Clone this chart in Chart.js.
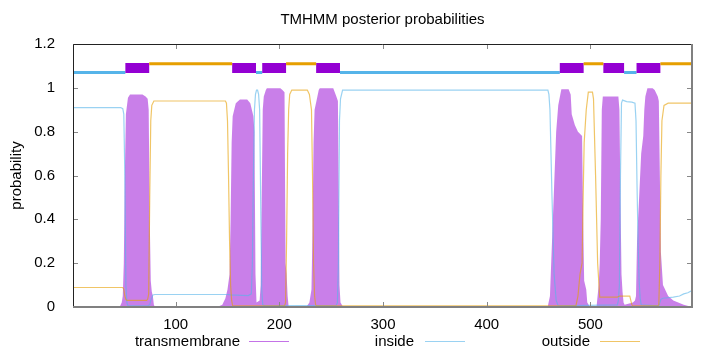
<!DOCTYPE html>
<html>
<head>
<meta charset="utf-8">
<script src="https://cdn.jsdelivr.net/npm/chart.js@4"></script>
<style>
  html, body { margin: 0; padding: 0; background: #fff; }
  #wrap { position: relative; width: 720px; height: 352px; font-family: "Liberation Sans", Arial, sans-serif; color: #000; }
  #chart { position: absolute; left: 0; top: 0; }
  #title { position: absolute; left: 73px; width: 619px; top: 10px; text-align: center; font-size: 15px; line-height: 17px; }
  .lg { position: absolute; top: 332px; font-size: 15px; line-height: 17px; }
  .lg .t { position: absolute; right: 0; white-space: nowrap; text-align: right; }
  .lg .s { position: absolute; top: 9px; height: 0; width: 40px; border-top: 1.5px solid; }
</style>
</head>
<body>
<div id="wrap">
  <canvas id="chart" width="720" height="352"></canvas>
  <div id="title">TMHMM posterior probabilities</div>
  <div id="legend"></div>
</div>
<script>
// ---- data ----
const chartTitle = "TMHMM posterior probabilities";
const yAxisTitle = "probability";
const seriesNames = ["transmembrane", "inside", "outside"];
const xTicks = [100, 200, 300, 400, 500];
const yTicks = [0, 0.2, 0.4, 0.6, 0.8, 1.0, 1.2];
const seqLength = 598;

// transmembrane posterior probability (residue, value)
const tmX = [1,46,48,49,50,51,52,54,56,68,71,73,74,75,76,77,78,79,80,
  140,145,148,150,152,153,154,155,158,162,169,172,175,176,177,178,181,182,183,184,185,187,188,201,203,205,206,207,208,209,
  226,229,231,232,233,234,236,238,239,252,255,256.5,257.5,258,259,261,
  459,461,463,465,467,469,471,472,479,481,482,485,488,492,493,494,496,497,499,
  506,508,509,510,511,512,527,528,529,530,531,532,533,
  541,543,544,545,547,549,551,552,553,555,560,562,565,566,567,568,570,575,580,590,598];
const tmY = [0,0,0.02,0.05,0.2,0.6,0.88,0.955,0.97,0.97,0.96,0.95,0.9,0.4,0.12,0.07,0.05,0.01,0,
  0,0.01,0.04,0.08,0.15,0.4,0.75,0.87,0.93,0.947,0.947,0.93,0.87,0.8,0.15,0.02,0.03,0.1,0.5,0.9,0.96,0.99,0.998,0.998,0.99,0.98,0.2,0.15,0.05,0,
  0,0.02,0.08,0.35,0.75,0.9,0.945,0.99,0.998,0.998,0.96,0.94,0.4,0.1,0.02,0.005,
  0.005,0.05,0.3,0.55,0.8,0.92,0.97,0.994,0.994,0.97,0.88,0.83,0.8,0.78,0.4,0.12,0.08,0.02,0.005,
  0.005,0.1,0.2,0.4,0.9,0.96,0.96,0.9,0.5,0.15,0.07,0.02,0.01,
  0.02,0.03,0.05,0.3,0.5,0.7,0.78,0.9,0.96,0.998,0.998,0.99,0.96,0.94,0.6,0.25,0.1,0.05,0.03,0.01,0];

// inside posterior probability
const inX = [1,47,49,50,51,52,53,54,73,75,76,78,80,150,153,170,173,174,175,176,177,178,179,180,181,182,183,184,186,
  255,256,257,258,259,261,459,460,461,463,465,467,469,526,527,528,529,530,531,535,540,543,544,545,546,547,548,549,
  566,567,568,570,580,586,590,594,598];
const inY = [0.91,0.91,0.905,0.88,0.6,0.1,0.02,0.005,0.005,0.01,0.03,0.055,0.057,0.057,0.055,0.052,0.06,0.2,0.6,0.9,0.97,0.99,0.99,0.97,0.9,0.5,0.08,0.01,0.005,
  0.008,0.02,0.2,0.85,0.95,0.99,0.99,0.97,0.9,0.5,0.15,0.03,0.005,0.01,0.03,0.1,0.6,0.93,0.944,0.937,0.935,0.93,0.85,0.55,0.3,0.12,0.04,0.01,
  0.005,0.02,0.035,0.04,0.045,0.05,0.06,0.065,0.075];

// outside posterior probability
const outX = [1,49,50,51,52,53,72,73,74,75,76,77,79,148,149,150,151,152,153,154,155,
  205,206,207,208,209,210,212,227,229,231,232,233,234,235,236,
  486,488,490,492,493,494,496,498,502,503,505,507,509,526,528,538,540,541,565,566,567,568,569,571,575,598];
const outY = [0.089,0.089,0.08,0.05,0.035,0.03,0.03,0.035,0.06,0.5,0.85,0.92,0.94,0.94,0.93,0.85,0.6,0.3,0.1,0.03,0.005,
  0.005,0.02,0.3,0.7,0.9,0.97,0.99,0.99,0.97,0.9,0.6,0.2,0.05,0.01,0.005,
  0.005,0.05,0.15,0.2,0.5,0.75,0.9,0.98,0.98,0.95,0.6,0.2,0.045,0.045,0.05,0.05,0.01,0.005,0.005,0.01,0.2,0.6,0.85,0.92,0.93,0.93];

// predicted topology segments [start, end] and their bar levels
const insideSegs = [[1,51.5],[177.5,183.5],[258.5,470.5],[532.5,544.5]];
const tmSegs = [[51.5,74.5],[154.5,177.5],[183.5,206.5],[235.5,258.5],[470.5,493.5],[512.5,532.5],[544.5,567.5]];
const outsideSegs = [[74.5,154.5],[206.5,235.5],[493.5,512.5],[567.5,598]];
const insideLevel = 1.07, tmLevel = 1.09, outsideLevel = 1.11;

// ---- build ----
const pts = (xs, ys) => xs.map((x, i) => ({x, y: ys[i]}));
const segPts = (segs, lvl) => {
  const out = [];
  segs.forEach((s, i) => {
    if (i > 0) out.push({x: (segs[i-1][1] + s[0]) / 2, y: null});
    out.push({x: s[0], y: lvl}, {x: s[1], y: lvl});
  });
  return out;
};

const C_TM = '#9400d3', C_IN = '#56b4e9', C_OUT = '#e69f00';
const FONT = '"Liberation Sans", Arial, sans-serif';

const frame = {
  id: 'frame',
  afterDatasetsDraw(chart) {
    const {ctx, chartArea: a, scales: {x, y}} = chart;
    ctx.save();
    ctx.lineWidth = 1;
    ctx.strokeStyle = '#888';
    ctx.beginPath();
    xTicks.forEach(v => {
      const p = Math.round(x.getPixelForValue(v)) + 0.5;
      ctx.moveTo(p, a.bottom); ctx.lineTo(p, a.bottom - 5);
      ctx.moveTo(p, a.top); ctx.lineTo(p, a.top + 5);
    });
    yTicks.forEach(v => {
      const p = Math.round(y.getPixelForValue(v)) + 0.5;
      ctx.moveTo(a.left, p); ctx.lineTo(a.left + 5, p);
      ctx.moveTo(a.right, p); ctx.lineTo(a.right - 5, p);
    });
    ctx.stroke();
    ctx.strokeStyle = '#222';
    ctx.beginPath();
    ctx.moveTo(a.left + 0.5, a.bottom); ctx.lineTo(a.left + 0.5, a.top + 0.5); ctx.lineTo(a.right, a.top + 0.5);
    ctx.stroke();
    ctx.strokeStyle = '#808080';
    ctx.lineWidth = 2;
    ctx.beginPath();
    ctx.moveTo(a.right, a.top); ctx.lineTo(a.right, a.bottom); ctx.lineTo(a.left, a.bottom);
    ctx.stroke();
    ctx.restore();
  }
};

const bar = (label, data, color, w) => ({
  label, data, borderColor: color, backgroundColor: color, borderWidth: w,
  pointRadius: 0, fill: false, spanGaps: false, borderCapStyle: 'butt', tension: 0
});

new Chart(document.getElementById('chart'), {
  type: 'line',
  data: {
    datasets: [
      bar('outside topology', segPts(outsideSegs, outsideLevel), C_OUT, 3),
      bar('transmembrane topology', segPts(tmSegs, tmLevel), C_TM, 10),
      bar('inside topology', segPts(insideSegs, insideLevel), C_IN, 3),
      { label: seriesNames[2], data: pts(outX, outY), borderColor: 'rgba(230,159,0,0.6)', borderWidth: 1.2, pointRadius: 0, fill: false, tension: 0 },
      { label: seriesNames[1], data: pts(inX, inY), borderColor: 'rgba(86,180,233,0.6)', borderWidth: 1.2, pointRadius: 0, fill: false, tension: 0 },
      { label: seriesNames[0], data: pts(tmX, tmY), borderColor: 'rgba(148,0,211,0.5)', backgroundColor: 'rgba(148,0,211,0.5)', borderWidth: 0, pointRadius: 0, fill: 'origin', tension: 0 }
    ]
  },
  options: {
    responsive: false,
    animation: false,
    devicePixelRatio: 1,
    layout: { padding: { top: 44, right: 28, bottom: 0, left: 0 } },
    plugins: { legend: { display: false }, title: { display: false }, tooltip: { enabled: false } },
    scales: {
      x: {
        type: 'linear', min: 1, max: seqLength,
        grid: { display: false }, border: { display: false },
        afterBuildTicks: s => { s.ticks = xTicks.map(v => ({value: v})); },
        afterFit: s => { s.height = 45; },
        ticks: { font: { family: FONT, size: 15 }, color: '#000', padding: 1, maxRotation: 0 }
      },
      y: {
        min: 0, max: 1.2,
        grid: { display: false }, border: { display: false },
        afterBuildTicks: s => { s.ticks = yTicks.map(v => ({value: v})); },
        afterFit: s => { s.width = 73; },
        title: { display: true, text: yAxisTitle, font: { family: FONT, size: 15 }, color: '#000', padding: { top: 8, bottom: 0 } },
        ticks: { font: { family: FONT, size: 15 }, color: '#000', padding: 10, callback: v => String(+Number(v).toFixed(1)) }
      }
    }
  },
  plugins: [frame]
});

// legend (gnuplot style: text then sample line)
const legendItems = [
  { name: seriesNames[0], color: 'rgba(148,0,211,0.55)', textRight: 240, lineLeft: 249 },
  { name: seriesNames[1], color: 'rgba(86,180,233,0.6)', textRight: 414, lineLeft: 425 },
  { name: seriesNames[2], color: 'rgba(230,159,0,0.6)', textRight: 590, lineLeft: 600 }
];
const lg = document.getElementById('legend');
legendItems.forEach(it => {
  const t = document.createElement('div');
  t.className = 'lg';
  t.style.left = '0px'; t.style.width = it.textRight + 'px';
  t.innerHTML = '<span class="t">' + it.name + '</span>';
  lg.appendChild(t);
  const s = document.createElement('div');
  s.className = 'lg';
  s.style.left = it.lineLeft + 'px';
  s.innerHTML = '<span class="s" style="border-color:' + it.color + '"></span>';
  lg.appendChild(s);
});
</script>
</body>
</html>
